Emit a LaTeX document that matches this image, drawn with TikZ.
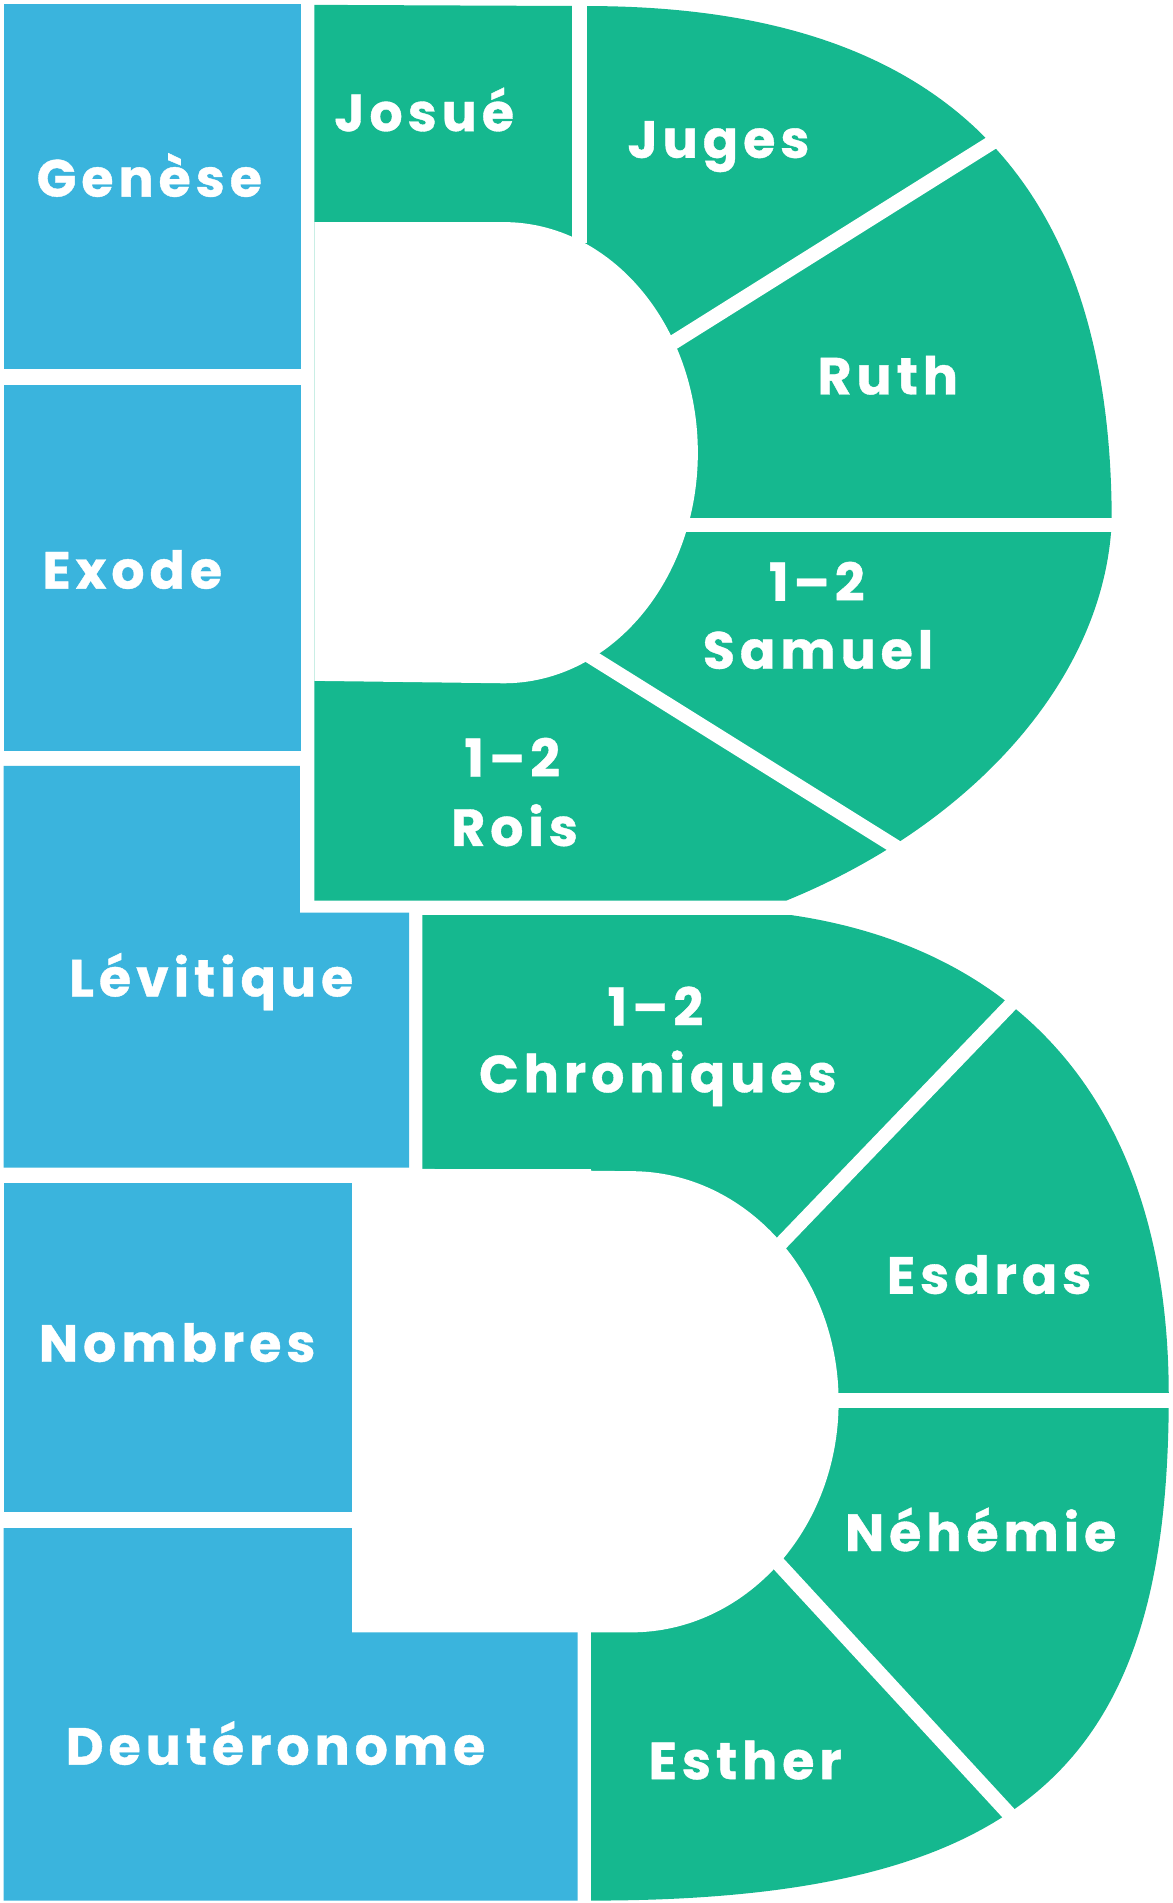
\documentclass[tikz,border=0pt]{standalone}
\usepackage{fontspec}
\newfontfamily\bk{Poppins}[LetterSpace=9.5,BoldFeatures={FakeBold=0.7}]
\definecolor{bblue}{HTML}{3AB4DD}
\definecolor{bgreen}{HTML}{15B88F}
\begin{document}
\begin{tikzpicture}[x=1pt,y=-1pt,
  lbl/.style={text=white,font=\bk\bfseries\fontsize{43}{50}\selectfont,anchor=base,inner sep=0pt},
  gap/.style={white,line width=12pt}]
\useasboundingbox (0,0) rectangle (966,1568);
\fill[white] (0,0) rectangle (966,1568);
% top bowl
\fill[bgreen] (259,4) -- (484,5) .. controls (780,5) and (916,150) .. (916,430)
  .. controls (910,560) and (800,680) .. (648,742) -- (259,742) -- cycle;
\fill[white] (259,183) -- (415,183) .. controls (503.4,183) and (575,268.1) .. (575,373)
  .. controls (575,477.9) and (503.4,563) .. (415,563) -- (259,561) -- cycle;
% bottom bowl
\fill[bgreen] (348,754) -- (652,754) .. controls (830,780) and (963,900) .. (963,1150)
  .. controls (963,1450) and (850,1566) .. (487,1566) -- (487,963) -- (348,963) -- cycle;
\fill[white] (340,963) -- (520,965) .. controls (614.4,965) and (691,1050.1) .. (691,1155)
  .. controls (691,1259.9) and (614.4,1345) .. (520,1345) -- (340,1345) -- cycle;
% separators
\draw[gap,line width=13pt] (477.5,-5) -- (477.5,200);
\draw[gap] (500,316.5) -- (900,65.6);
\draw[gap,line width=11pt] (540,432.5) -- (940,432.5);
\draw[gap] (450,518) -- (780,724);
\draw[gap] (250,748) -- (720,748);
\draw[gap,line width=11.5pt] (600,1069.8) -- (880,778.6);
\draw[gap] (670,1154) -- (980,1154);
\draw[gap] (600,1243.5) -- (870,1536.4);
% blue
\fill[bblue] (3,3) rectangle (248,304);
\fill[bblue] (3,317) rectangle (248,619);
\fill[bblue] (3,631) -- (247,631) -- (247,752) -- (337,752) -- (337,962) -- (3,962) -- cycle;
\fill[bblue] (3,975) rectangle (290,1246);
\fill[bblue] (3,1259) -- (290,1259) -- (290,1345) -- (476,1345) -- (476,1566) -- (3,1566) -- cycle;
% labels
\node[lbl] (gen) at (123,162) {Genèse};
\node[lbl] (exo) at (109,485) {Exode};
\node[lbl] (lev) at (174,821) {Lévitique};
\node[lbl] (nom) at (146,1122) {Nombres};
\node[lbl] (deu) at (227,1454) {Deutéronome};
\node[lbl] (jos) at (349.5,108) {Josué};
\node[lbl] (jug) at (592,130) {Juges};
\node[lbl] (rut) at (731.5,325) {Ruth};
\node[lbl] (samA) at (673,495) {1–2};
\node[lbl] (samB) at (674,551) {Samuel};
\node[lbl] (roiA) at (422,640) {1–2};
\node[lbl] (roiB) at (424,697) {Rois};
\node[lbl] (chrA) at (540,845) {1–2};
\node[lbl] (chrB) at (542,900) {Chroniques};
\node[lbl] (esd) at (815,1066) {Esdras};
\node[lbl] (neh) at (808,1278) {Néhémie};
\node[lbl] (est) at (614,1466) {Esther};
\end{tikzpicture}
\end{document}
